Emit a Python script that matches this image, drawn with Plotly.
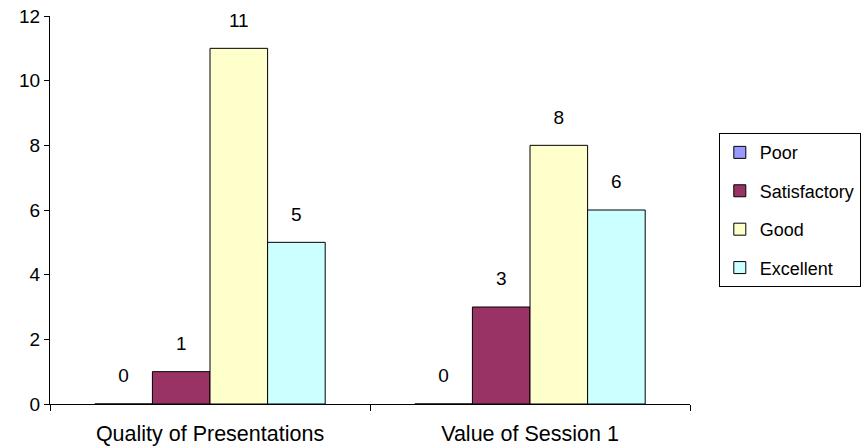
import plotly.graph_objects as go

categories = ["Quality of Presentations", "Value of Session 1"]
series_names = ["Poor", "Satisfactory", "Good", "Excellent"]
poor = [0, 0]
satisfactory = [1, 3]
good = [11, 8]
excellent = [5, 6]
colors = ["#9999FF", "#993366", "#FFFFCC", "#CCFFFF"]

fig = go.Figure()
for name, vals, col in zip(series_names, [poor, satisfactory, good, excellent], colors):
    fig.add_trace(go.Bar(
        name=name, x=categories, y=vals, legendgroup=name,
        marker=dict(color=col, line=dict(color="black", width=1)),
        text=[f"<span style='font-size:19px'>{v}</span><br> " for v in vals],
        textposition="outside",
        textfont=dict(color="black", size=12, family="Liberation Sans, Arial"),
        cliponaxis=False,
    ))

fig.update_layout(
    width=866, height=448,
    barmode="group", bargap=0.28, bargroupgap=0,
    plot_bgcolor="white", paper_bgcolor="white",
    margin=dict(l=50, r=176, t=16, b=44, autoexpand=False),
    font=dict(family="Liberation Sans, Arial", size=18, color="black"),
    showlegend=True,
    legend=dict(x=1.045, y=0.698, xanchor="left", yanchor="top",
                bordercolor="black", borderwidth=1, bgcolor="white",
                font=dict(size=18), tracegroupgap=12, itemwidth=30),
    xaxis=dict(showline=True, linecolor="black", linewidth=1, ticks="outside",
               tickson="boundaries", ticklen=6, tickcolor="black", automargin=False,
               ticklabelstandoff=10, tickfont=dict(size=21.5)),
    yaxis=dict(range=[0, 12], dtick=2, showline=True, linecolor="black", linewidth=1,
               ticks="outside", ticklen=5, tickcolor="black", showgrid=False, automargin=False,
               zeroline=False, tickfont=dict(size=19)),
)
fig.write_html("out.html", config={"displayModeBar": False},
               post_script="document.body.style.margin='0px';")
